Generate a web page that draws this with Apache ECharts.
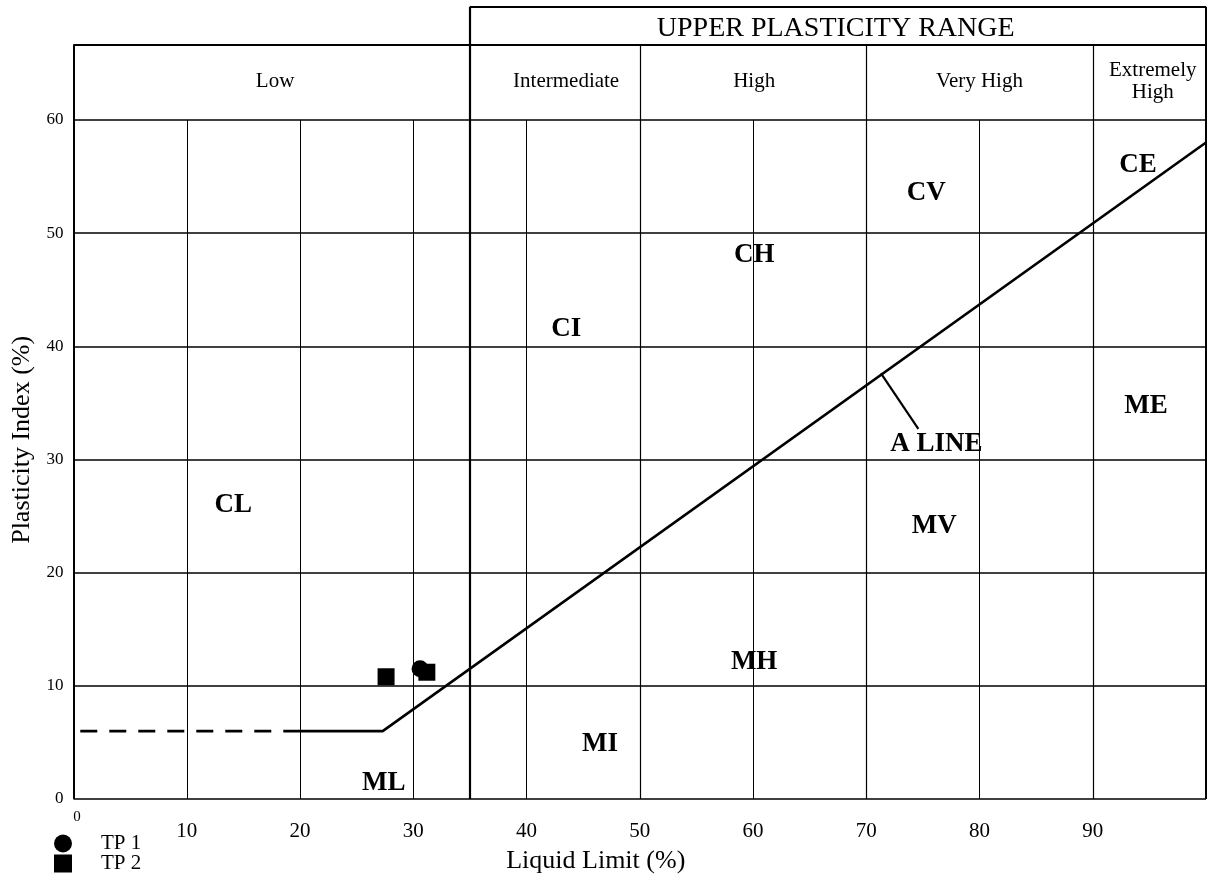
<!DOCTYPE html>
<html>
<head>
<meta charset="utf-8">
<style>
  html, body { margin: 0; padding: 0; background: #fff; }
  #chart { width: 1213px; height: 879px; }
</style>
</head>
<body>
<div id="chart"></div>
<script src="https://cdn.jsdelivr.net/npm/echarts@6/dist/echarts.min.js"></script>
<script>
// plasticity chart data
var tp1 = [[30.6, 11.5]];
var tp2 = [[27.6, 10.8], [31.2, 11.2]];

var aLine = [[20, 6], [27.3, 6], [100, 58]];
var aLineDashed = [[0.6, 6], [20, 6]];
var aLineLeader = [[71.3, 37.6], [74.6, 32.7]];

var yTicks = [0, 10, 20, 30, 40, 50, 60];
var xMinor = [10, 20, 30, 40, 60, 80];
var xDividers = [50, 70, 90];
var xUpper = 35;
var rowLow = 60, rowTop = 66.67, rowUpper = 70;

var zoneNames = ['CL', 'ML', 'MI', 'CI', 'CH', 'MH', 'CV', 'MV', 'CE', 'ME', 'A LINE'];
var zoneX = [14.1, 27.4, 46.5, 43.5, 60.1, 60.1, 75.3, 76.0, 94.0, 94.7, 76.2];
var zoneY = [26.0, 1.4, 4.9, 41.5, 48.1, 12.1, 53.5, 24.1, 56.0, 34.7, 31.4];

var headNames = ['Low', 'Intermediate', 'High', 'Very High', 'Extremely\nHigh'];
var headX = [17.8, 43.5, 60.1, 80.0, 95.3];
var headY = [63.4, 63.4, 63.4, 63.4, 63.4];
var upperName = ['UPPER PLASTICITY RANGE'];
var upperX = [67.3];
var upperY = [68.1];

var serif = 'Liberation Serif';

// frame + grid segments
var segs = [];
yTicks.forEach(function (y) {
  segs.push({ coords: [[0, y], [100, y]], lineStyle: { width: 1.5 } });
});
segs.push({ coords: [[0, rowTop], [100, rowTop]], lineStyle: { width: 2 } });
segs.push({ coords: [[xUpper, rowUpper], [100, rowUpper]], lineStyle: { width: 2 } });
xMinor.forEach(function (x) {
  segs.push({ coords: [[x, 0], [x, rowLow]], lineStyle: { width: 1 } });
});
xDividers.forEach(function (x) {
  segs.push({ coords: [[x, 0], [x, rowTop]], lineStyle: { width: 1.2 } });
});
segs.push({ coords: [[xUpper, 0], [xUpper, rowUpper]], lineStyle: { width: 2.2 } });
segs.push({ coords: [[0, 0], [0, rowTop]], lineStyle: { width: 2 } });
segs.push({ coords: [[100, 0], [100, rowUpper]], lineStyle: { width: 2 } });

function textData(names, xs, ys) {
  return names.map(function (n, i) { return { value: [xs[i], ys[i]], name: n }; });
}

function textSeries(data, size, weight) {
  return {
    type: 'scatter', data: data, symbolSize: 0, silent: true, z: 4, clip: false,
    itemStyle: { opacity: 1 },
    label: {
      show: true, position: 'inside', formatter: '{b}',
      fontFamily: serif, fontWeight: weight, fontSize: size, lineHeight: 22, color: '#000'
    }
  };
}

function legendAt(name, icon, top, textPad) {
  return {
    orient: 'vertical', left: 54, top: top, padding: 0,
    itemWidth: 18, itemHeight: 18,
    data: [{ name: name, icon: icon }],
    textStyle: { fontFamily: serif, fontSize: 21, color: '#000', padding: textPad }
  };
}

var chart = echarts.init(document.getElementById('chart'));
chart.setOption({
  animation: false,
  grid: { left: 73.5, right: 7, top: 6.7, bottom: 78.7, containLabel: false },
  legend: [
    legendAt('TP 1', 'circle', 833, [2, 0, 0, 24]),
    legendAt('TP 2', 'rect', 853, [6, 0, 0, 24])
  ],
  xAxis: [{
    type: 'value', min: 0, max: 100, interval: 10,
    name: 'Liquid Limit (%)', nameLocation: 'middle', nameGap: 49,
    nameTextStyle: { fontFamily: serif, fontSize: 26, color: '#000', padding: [0, 88, 0, 0] },
    axisLine: { show: false }, axisTick: { show: false }, splitLine: { show: false },
    axisLabel: {
      margin: 22, fontFamily: serif, fontSize: 21, color: '#000',
      formatter: function (v) { return (v === 0 || v === 100) ? '' : v; }
    }
  }, {
    type: 'value', min: 0, max: 100, interval: 10, position: 'bottom',
    axisLine: { show: false }, axisTick: { show: false }, splitLine: { show: false },
    axisLabel: {
      margin: 11, fontFamily: serif, fontSize: 15, color: '#000', padding: [0, 0, 0, 7],
      formatter: function (v) { return v === 0 ? '0' : ''; }
    }
  }],
  yAxis: {
    type: 'value', min: 0, max: 70, interval: 10,
    name: 'Plasticity Index (%)', nameLocation: 'middle', nameGap: 38,
    nameTextStyle: { fontFamily: serif, fontSize: 26, color: '#000', padding: [0, 74, 0, 0] },
    axisLine: { show: false }, axisTick: { show: false }, splitLine: { show: false },
    axisLabel: {
      margin: 10, fontFamily: serif, fontSize: 17, color: '#000',
      formatter: function (v) { return v > 60 ? '' : v; }
    }
  },
  series: [
    {
      type: 'lines', coordinateSystem: 'cartesian2d', polyline: false, silent: true,
      clip: false, z: 1,
      lineStyle: { color: '#000', opacity: 1 },
      data: segs
    },
    {
      type: 'line', data: aLine, symbol: 'none', clip: false, z: 3,
      lineStyle: { color: '#000', width: 2.6 }
    },
    {
      type: 'line', data: aLineDashed, symbol: 'none', clip: false, z: 3,
      lineStyle: { color: '#000', width: 2.6, type: [17, 12] }
    },
    {
      type: 'line', data: aLineLeader, symbol: 'none', clip: false, z: 3,
      lineStyle: { color: '#000', width: 2.2 }
    },
    textSeries(textData(zoneNames, zoneX, zoneY), 27, 'bold'),
    textSeries(textData(headNames, headX, headY), 21, 'normal'),
    textSeries(textData(upperName, upperX, upperY), 28, 'normal'),
    {
      name: 'TP 1', type: 'scatter', data: tp1, symbol: 'circle', symbolSize: 17, z: 5,
      itemStyle: { color: '#000', opacity: 1 }
    },
    {
      name: 'TP 2', type: 'scatter', data: tp2, symbol: 'rect', symbolSize: 17, z: 6,
      itemStyle: { color: '#000', opacity: 1 }
    }
  ]
});
</script>
</body>
</html>
